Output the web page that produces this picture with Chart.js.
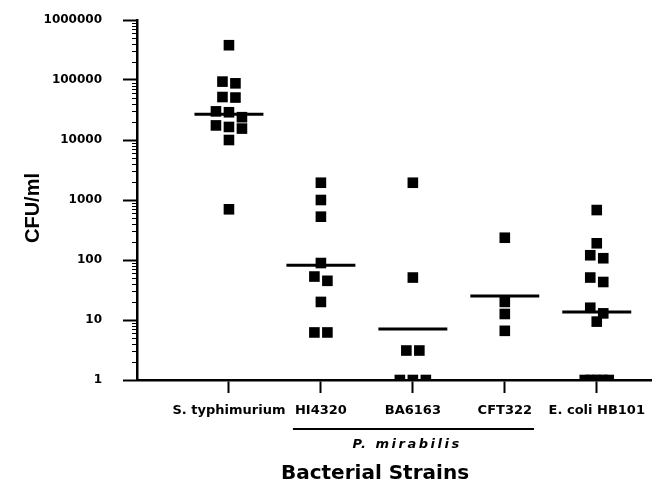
<!DOCTYPE html>
<html><head><meta charset="utf-8">
<script src="https://cdn.jsdelivr.net/npm/chart.js@4/dist/chart.umd.min.js"></script>
<style>html,body{margin:0;padding:0;background:#fff}</style>
</head><body>
<canvas id="c" width="654" height="487"></canvas>
<script>
// ---- data ----
const categories = ['S. typhimurium', 'HI4320', 'BA6163', 'CFT322', 'E. coli HB101'];
const sTyphimurium = [380000, 94000, 88000, 52000, 51000, 30000, 29000, 24000, 17500, 16500, 15500, 10000, 700];
const hi4320 = [1940, 1000, 527, 89, 53, 45, 20, 6.2, 6.2];
const ba6163 = [1940, 51, 3.1, 3.1, 1, 1, 1];
const cft322 = [235, 20, 12.6, 6.6];
const eColiHB101 = [680, 190, 120, 107, 51, 43, 16, 12.9, 9.4, 1, 1, 1, 1, 1];
const groupMeans = [26800, 82, 7.1, 25, 13.6];
const yTickValues = [1, 10, 100, 1000, 10000, 100000, 1000000];
const groupLabel = 'P. mirabilis';
const yTitle = 'CFU/ml';
const xTitle = 'Bacterial Strains';

// ---- layout helpers ----
const PX_PER_UNIT = 92;
const MEAN_HALF = 0.375;
function swarm(values, catIndex) {
  const sorted = values.slice().sort((a, b) => b - a);
  const rows = [];
  sorted.forEach(v => {
    const last = rows[rows.length - 1];
    if (last && Math.log10(last[0]) - Math.log10(v) <= 0.11) last.push(v); else rows.push([v]);
  });
  const pts = [];
  rows.forEach(r => {
    const sp = (r.length > 3 ? 6 : 13) / PX_PER_UNIT;
    r.forEach((v, i) => pts.push({x: catIndex + 1 + (i - (r.length - 1) / 2) * sp, y: v}));
  });
  return pts;
}
const groups = [sTyphimurium, hi4320, ba6163, cft322, eColiHB101];
const datasets = [];
groups.forEach((vals, i) => {
  datasets.push({
    label: categories[i], data: swarm(vals, i),
    pointStyle: 'rect', pointRadius: 7.5, pointHoverRadius: 7.5,
    backgroundColor: '#000', borderColor: '#000', borderWidth: 0, showLine: false
  });
});
groupMeans.forEach((m, i) => {
  datasets.push({
    label: 'mean ' + categories[i],
    data: [{x: i + 1 - MEAN_HALF, y: m}, {x: i + 1 + MEAN_HALF, y: m}],
    showLine: true, borderColor: '#000', borderWidth: 3, pointRadius: 0, backgroundColor: '#000'
  });
});

const tickFont = {family: 'DejaVu Sans', weight: 'bold', size: 13};

const extras = {
  id: 'extras',
  afterDraw(chart) {
    const ctx = chart.ctx, ys = chart.scales.y, xs = chart.scales.x, ca = chart.chartArea;
    ctx.save();
    ctx.strokeStyle = '#000'; ctx.fillStyle = '#000';
    // minor log ticks
    ctx.lineWidth = 1;
    for (let d = 0; d < 6; d++) {
      for (let k = 2; k <= 9; k++) {
        const y = Math.round(ys.getPixelForValue(k * Math.pow(10, d))) + 0.5;
        ctx.beginPath(); ctx.moveTo(ca.left - 5, y); ctx.lineTo(ca.left, y); ctx.stroke();
      }
    }
    // underline for P. mirabilis strains
    ctx.font = 'bold 13px "DejaVu Sans"';
    const x1 = xs.getPixelForValue(2) - ctx.measureText(categories[1]).width / 2 - 2;
    const x2 = xs.getPixelForValue(4) + ctx.measureText(categories[3]).width / 2 + 2;
    ctx.lineWidth = 2;
    ctx.beginPath(); ctx.moveTo(x1, 429); ctx.lineTo(x2, 429); ctx.stroke();
    // group label
    ctx.font = 'italic bold 13px "DejaVu Sans"';
    ctx.letterSpacing = '2.5px';
    ctx.textAlign = 'center'; ctx.textBaseline = 'middle';
    ctx.fillText(groupLabel, 407, 445);
    ctx.letterSpacing = '0px';
    // x title
    ctx.font = 'bold 20px "DejaVu Sans"';
    ctx.fillText(xTitle, 375, 474);
    // y title
    ctx.translate(33, 208); ctx.rotate(-Math.PI / 2);
    ctx.font = 'bold 20px "Liberation Sans"';
    ctx.fillText(yTitle, 0, 0);
    ctx.restore();
  }
};

new Chart(document.getElementById('c'), {
  type: 'scatter',
  data: {datasets},
  options: {
    responsive: false, animation: false, events: [],
    layout: {autoPadding: false, padding: {top: 20, right: 3, left: 0, bottom: 0}},
    plugins: {legend: {display: false}, tooltip: {enabled: false}},
    scales: {
      x: {
        type: 'linear', min: 0, max: 5.59,
        afterBuildTicks: s => { s.ticks = [1, 2, 3, 4, 5].map(v => ({value: v})); },
        afterFit: s => { s.height = 107; s.paddingLeft = 0; s.paddingRight = 0; },
        ticks: {callback: v => categories[Math.round(v) - 1], font: tickFont, color: '#000', padding: 10, maxRotation: 0, autoSkip: false},
        grid: {drawOnChartArea: false, drawTicks: true, tickLength: 13, tickWidth: 2, tickColor: '#000'},
        border: {display: true, color: '#000', width: 2.5}
      },
      y: {
        type: 'logarithmic', min: 1, max: 1000000,
        afterBuildTicks: s => { s.ticks = yTickValues.map(v => ({value: v})); },
        afterFit: s => { s.width = 137; s.paddingTop = 0; s.paddingBottom = 0; },
        ticks: {callback: v => String(v), font: {family: 'DejaVu Sans', weight: 'bold', size: 12}, color: '#000', padding: 21},
        grid: {drawOnChartArea: false, drawTicks: true, tickLength: 14, tickWidth: 2, tickColor: '#000'},
        border: {display: true, color: '#000', width: 2.5}
      }
    }
  },
  plugins: [extras]
});
</script>
</body></html>
